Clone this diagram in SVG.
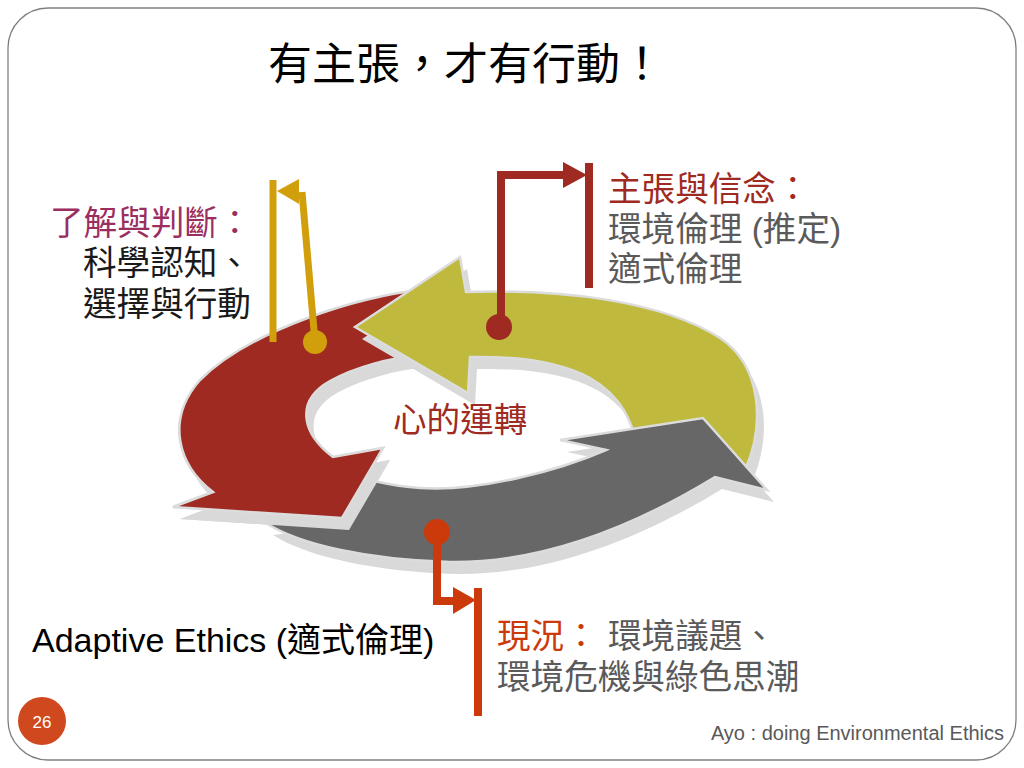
<svg xmlns="http://www.w3.org/2000/svg" width="1024" height="768" viewBox="0 0 1024 768">
<style>
  .t { font-family: "Liberation Sans", "Noto Sans CJK TC", sans-serif; }
  .cjk { font-family: "Liberation Sans", "Noto Sans CJK TC", sans-serif; font-size: 33.6px; }
  .gray { fill: #5a5a5a; }
  .shadow { fill: #d9d9d9; }
  .arr { stroke: #dcdcdc; stroke-width: 2.5; stroke-linejoin: miter; }
</style>
<defs>
  <path id="redArrow" d="M420,290 C360,296 250,330 200,380 C165,420 178,465 213,492 L173,507 L342,518 L383,448 L333,457 C300,432 296,400 330,381 C355,367 390,358 420,355 Z"/>
  <path id="greenArrow" d="M355,327 L460,257 L466,292 C560,289 660,300 720,338 C762,366 765,425 745,470 L640,452 C632,425 625,398 590,378 C560,362 520,356 470,357 L468,393 Z"/>
  <path id="grayArrow" d="M266,523 C300,545 370,560 450,562 C530,563 620,535 715,477 L767,490 L703,418 L560,440 L606,450 C560,470 480,492 420,488 C390,486 360,478 330,470 L320,500 L300,519 Z"/>
  <clipPath id="redHeadClip"><rect x="150" y="420" width="260" height="150"/></clipPath>
</defs>

<rect id="frame" x="8" y="8" width="1008" height="752" rx="40" ry="40" fill="#ffffff" stroke="#7f7f7f" stroke-width="1.3"/>

<g id="title"><text class="t" x="268" y="80" font-size="44" fill="#000000">有主張，才有行動！</text></g>

<g id="cycle">
  <use href="#redArrow" class="shadow" transform="translate(7,12)"/>
  <use href="#redArrow" fill="#9e2a21" class="arr"/>
  <use href="#greenArrow" class="shadow" transform="translate(7,12)"/>
  <use href="#greenArrow" fill="#bfba3d" class="arr"/>
  <use href="#grayArrow" class="shadow" transform="translate(7,12)"/>
  <use href="#grayArrow" fill="#676767" class="arr"/>
  <g clip-path="url(#redHeadClip)">
    <use href="#redArrow" class="shadow" transform="translate(7,12)"/>
    <use href="#redArrow" fill="#9e2a21" class="arr"/>
  </g>
</g>

<g id="connectors">
  <g id="conn-gold" fill="#d29f0c" stroke="#d29f0c">
    <line x1="273" y1="180" x2="273" y2="342" stroke-width="7"/>
    <line x1="315" y1="342" x2="302" y2="192" stroke-width="7"/>
    <polygon points="277,191 299,179 299,204" stroke="none"/>
    <circle cx="315" cy="342" r="12" stroke="none"/>
  </g>
  <g id="conn-red" fill="#9e2a21" stroke="#9e2a21">
    <line x1="589" y1="163" x2="589" y2="288" stroke-width="8"/>
    <polyline points="501,327 501,175 566,175" fill="none" stroke-width="8" stroke-linejoin="miter"/>
    <polygon points="587,175 563,162 563,188" stroke="none"/>
    <circle cx="499" cy="327" r="13" stroke="none"/>
  </g>
  <g id="conn-orange" fill="#cc3a0c" stroke="#cc3a0c">
    <line x1="478" y1="588" x2="478" y2="716" stroke-width="8"/>
    <polyline points="437,532 437,601 456,601" fill="none" stroke-width="8" stroke-linejoin="miter"/>
    <polygon points="476,600 453,587 453,614" stroke="none"/>
    <circle cx="437" cy="532" r="13" stroke="none"/>
  </g>
</g>

<g id="node-understand">
  <text class="cjk" x="50" y="235" fill="#9b2e5e">了解與判斷：</text>
  <text class="cjk" x="83" y="275" fill="#1a1a1a">科學認知、</text>
  <text class="cjk" x="83" y="316" fill="#1a1a1a">選擇與行動</text>
</g>

<g id="node-belief">
  <text class="cjk" x="608" y="201" fill="#9e2a21">主張與信念：</text>
  <text class="cjk gray" x="608" y="241">環境倫理 (推定)</text>
  <text class="cjk gray" x="608" y="281">適式倫理</text>
</g>

<g id="node-center">
  <text class="cjk" x="393" y="432" fill="#9e2a21">心的運轉</text>
</g>

<g id="node-situation">
  <text class="cjk" x="497" y="648"><tspan fill="#cc3a0c">現況：</tspan><tspan class="gray" x="608">環境議題、</tspan></text>
  <text class="cjk gray" x="497" y="689">環境危機與綠色思潮</text>
</g>

<g id="label-adaptive">
  <text class="t" x="32" y="652" font-size="34" fill="#000000">Adaptive Ethics (適式倫理)</text>
</g>

<g id="footer">
  <circle cx="42" cy="721" r="24" fill="#d0481d"/>
  <text class="t" x="42" y="728" font-size="17" fill="#ffffff" text-anchor="middle">26</text>
  <text class="t" x="1004" y="740" font-size="20" fill="#595959" text-anchor="end">Ayo : doing Environmental Ethics</text>
</g>
</svg>
